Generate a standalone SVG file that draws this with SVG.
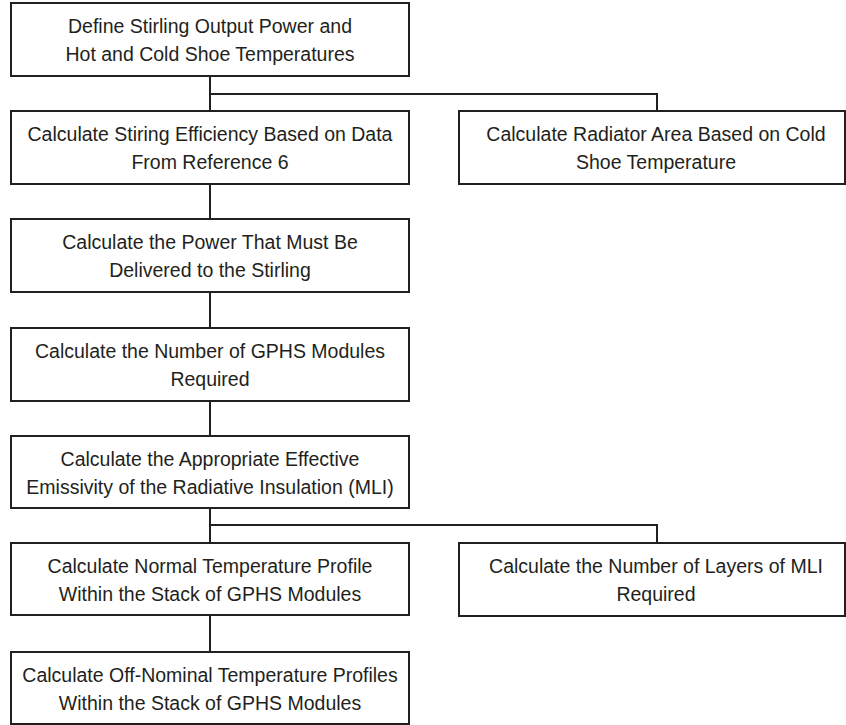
<svg xmlns="http://www.w3.org/2000/svg" width="846" height="725" viewBox="0 0 846 725">
<style>
.box{fill:#fff;stroke:#231f20;stroke-width:2}
.t{font-family:"Liberation Sans",Arial,sans-serif;font-size:19.5px;fill:#231f20;text-anchor:middle}
.c{fill:none;stroke:#231f20;stroke-width:2}
</style>
<rect width="846" height="725" fill="#fff"/>
<g id="connectors">
<path class="c" d="M210 76V111M210 184V219M210 292V328M210 401V436M210 508V543M210 615V652"/>
<path class="c" d="M210 94H657V111"/>
<path class="c" d="M210 525H657V543"/>
</g>
<g id="n1"><rect class="box" x="11" y="3" width="398" height="73"/>
<text class="t" x="210" y="33">Define Stirling Output Power and</text>
<text class="t" x="210" y="61">Hot and Cold Shoe Temperatures</text></g>
<g id="n2"><rect class="box" x="11" y="111" width="398" height="73"/>
<text class="t" x="210" y="141">Calculate Stiring Efficiency Based on Data</text>
<text class="t" x="210" y="169">From Reference 6</text></g>
<g id="n3"><rect class="box" x="459" y="111" width="386" height="73"/>
<text class="t" x="656" y="141">Calculate Radiator Area Based on Cold</text>
<text class="t" x="656" y="169">Shoe Temperature</text></g>
<g id="n4"><rect class="box" x="11" y="219" width="398" height="73"/>
<text class="t" x="210" y="249">Calculate the Power That Must Be</text>
<text class="t" x="210" y="277">Delivered to the Stirling</text></g>
<g id="n5"><rect class="box" x="11" y="328" width="398" height="73"/>
<text class="t" x="210" y="358">Calculate the Number of GPHS Modules</text>
<text class="t" x="210" y="386">Required</text></g>
<g id="n6"><rect class="box" x="11" y="436" width="398" height="72"/>
<text class="t" x="210" y="466">Calculate the Appropriate Effective</text>
<text class="t" x="210" y="494">Emissivity of the Radiative Insulation (MLI)</text></g>
<g id="n7"><rect class="box" x="11" y="543" width="398" height="72"/>
<text class="t" x="210" y="573">Calculate Normal Temperature Profile</text>
<text class="t" x="210" y="601">Within the Stack of GPHS Modules</text></g>
<g id="n8"><rect class="box" x="459" y="543" width="386" height="73"/>
<text class="t" x="656" y="573">Calculate the Number of Layers of MLI</text>
<text class="t" x="656" y="601">Required</text></g>
<g id="n9"><rect class="box" x="11" y="652" width="398" height="72"/>
<text class="t" x="210" y="682">Calculate Off-Nominal Temperature Profiles</text>
<text class="t" x="210" y="710">Within the Stack of GPHS Modules</text></g>
</svg>
